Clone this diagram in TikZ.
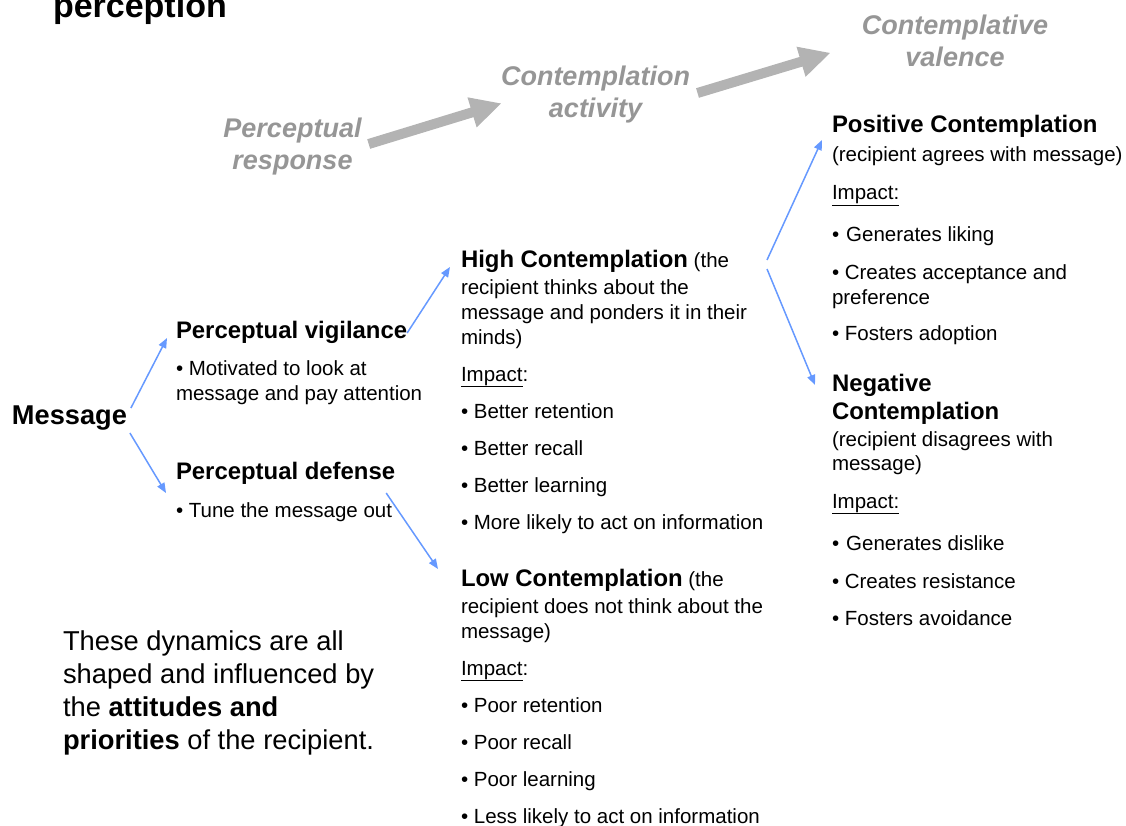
\documentclass[tikz,border=0pt]{standalone}
\usepackage{fontspec}
\setmainfont{Liberation Sans}
\usetikzlibrary{arrows.meta}
\setlength\parindent{0pt}
\definecolor{blueline}{RGB}{102,153,255}
\definecolor{grayarrow}{RGB}{179,179,179}
\definecolor{graytext}{RGB}{150,150,150}
\newcommand\bodyfont{\fontsize{20.5}{25}\selectfont}
\newcommand\hdfont{\fontsize{23.9}{28}\selectfont\bfseries}
\newcommand\gfont{\fontsize{27}{32}\selectfont\bfseries\itshape}
\newcommand\blk[2]{\begin{minipage}[t]{#1}\bodyfont #2\end{minipage}}
\newcommand\glab[1]{\begin{minipage}[t]{240pt}\centering\gfont #1\end{minipage}}
\begin{document}
\begin{tikzpicture}[x=1pt,y=-1pt,
  txt/.style={anchor=base west, inner sep=0pt, outer sep=0pt},
  glabel/.style={anchor=base, inner sep=0pt, outer sep=0pt, text=graytext},
  conn/.style={draw=blueline, line width=1.5pt, -{Triangle[length=10pt,width=8pt]}},
  bigarrow/.style={draw=grayarrow, line width=10pt, -{Triangle[length=31pt,width=29pt]}}]
\useasboundingbox (0,0) rectangle (1126,826);
\clip (0,0) rectangle (1126,826);

% title fragment
\node[txt] (title) at (53,18) {\fontsize{34}{40}\selectfont\bfseries perception};

% gray stage labels
\node[glabel] (pr) at (292.5,138) {\glab{Perceptual\\ response}};
\node[glabel] (ca) at (595.5,86) {\glab{Contemplation\\ activity}};
\node[glabel] (cv) at (955,35) {\glab{Contemplative\\ valence}};
\coordinate (a1s) at (368.7,144);
\coordinate (a1e) at (501.7,103.3);
\coordinate (a2s) at (697.5,93);
\coordinate (a2e) at (830.7,52.8);
\draw[bigarrow] (a1s) -- (a1e);
\draw[bigarrow] (a2s) -- (a2e);

% left column
\node[txt] (msg) at (12,424) {\fontsize{27.2}{30}\selectfont\bfseries Message};
\node[txt] (vig) at (176,338) {\hdfont Perceptual vigilance};
\node[txt] (vigtxt) at (176,375) {\blk{280pt}{• Motivated to look at\\ message and pay attention}};
\node[txt] (def) at (176,479) {\hdfont Perceptual defense};
\node[txt] (deftxt) at (176,517) {\blk{280pt}{• Tune the message out}};

% middle column
\node[txt] (high) at (461,267) {\blk{340pt}{{\hdfont High Contemplation} (the\\[2pt]
recipient thinks about the\\
message and ponders it in their\\
minds)\\[12pt]
\underline{Impact}:\\[12pt]
• Better retention\\[12pt]
• Better recall\\[12pt]
• Better learning\\[12pt]
• More likely to act on information}};

\node[txt] (low) at (461,586) {\blk{340pt}{{\hdfont Low Contemplation} (the\\[2pt]
recipient does not think about the\\
message)\\[12pt]
\underline{Impact}:\\[12pt]
• Poor retention\\[12pt]
• Poor recall\\[12pt]
• Poor learning\\[12pt]
• Less likely to act on information}};

% right column
\node[txt] (pos) at (832,133) {\blk{300pt}{{\hdfont Positive Contemplation}\\[4pt]
(recipient agrees with message)\\[13pt]
\underline{Impact:}\\[17pt]
•\hspace{7pt}Generates liking\\[13pt]
• Creates acceptance and\\
preference\\[11pt]
• Fosters adoption}};

\node[txt] (neg) at (832,391) {\blk{300pt}{{\hdfont Negative\\[3pt]
Contemplation}\\[2pt]
(recipient disagrees with\\[-1pt]
message)\\[13pt]
\underline{Impact:}\\[17pt]
•\hspace{7pt}Generates dislike\\[13pt]
• Creates resistance\\[12pt]
• Fosters avoidance}};

% note
\node[txt] (note) at (63,650) {\begin{minipage}[t]{360pt}\fontsize{27.3}{33}\selectfont
These dynamics are all\\
shaped and influenced by\\
the \textbf{attitudes and}\\
\textbf{priorities} of the recipient.\end{minipage}};

% blue connectors
\draw[conn] ([shift={(4,-16)}]msg.base east) -- ([shift={(-9,0)}]vig.base west);
\draw[conn] ([shift={(3,9)}]msg.base east) -- ([shift={(-10,14)}]def.base west);
\draw[conn] ([shift={(0,-5)}]vig.base east) -- ([shift={(-11,0)}]high.base west);
\draw[conn] ([shift={(-9,14)}]def.base east) -- ([shift={(-23,-17)}]low.base west);
\draw[conn] ([shift={(306,-7)}]high.base west) -- ([shift={(-10,7)}]pos.base west);
\draw[conn] ([shift={(306,2)}]high.base west) -- ([shift={(-17,-6)}]neg.base west);
\end{tikzpicture}
\end{document}
